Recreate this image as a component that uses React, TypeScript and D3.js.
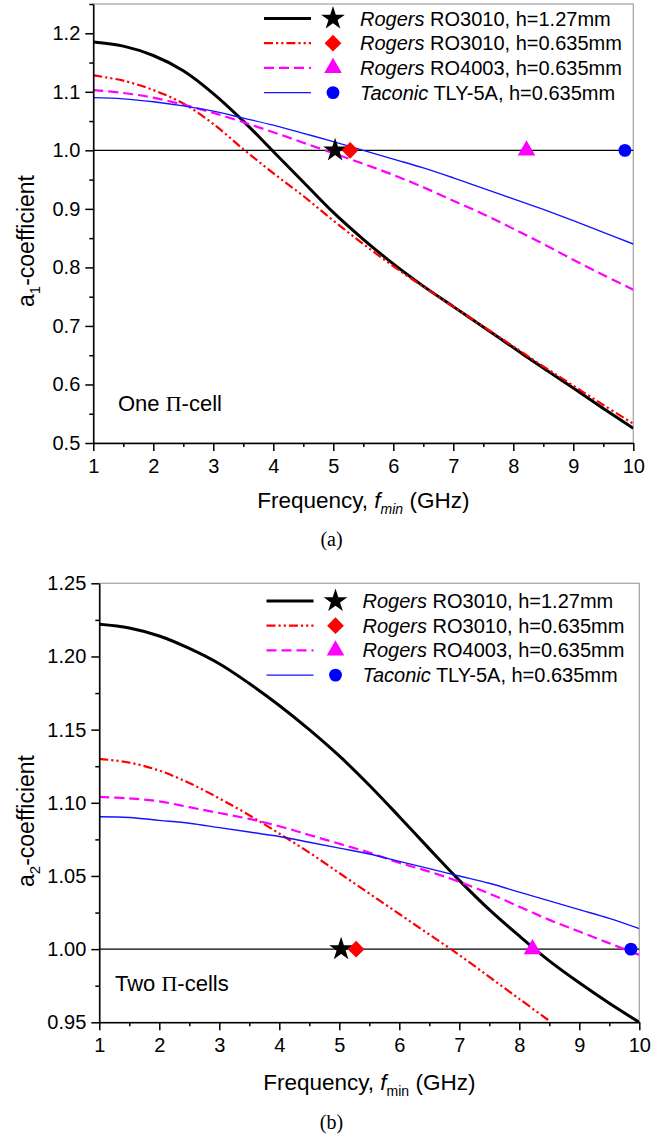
import React, { useEffect, useRef } from "react";
import * as d3 from "d3";

// ---------- data ----------
const freq = [1, 1.5, 2, 2.5, 3, 3.5, 4, 4.5, 5, 5.5, 6, 6.5, 7, 7.5, 8, 8.5, 9, 9.5, 10];
const freqRedB = [1, 1.5, 2, 2.5, 3, 3.5, 4, 4.5, 5, 5.5, 6, 6.5, 7, 7.5, 8, 8.5];

// (a) one Pi-cell, a1 coefficient
const a1_RO3010_127 = [1.185, 1.178, 1.162, 1.136, 1.097, 1.050, 0.998, 0.946, 0.894, 0.848, 0.806, 0.768, 0.733, 0.698, 0.663, 0.628, 0.594, 0.559, 0.525];
const a1_RO3010_0635 = [1.128, 1.119, 1.103, 1.080, 1.045, 1.002, 0.961, 0.922, 0.880, 0.840, 0.802, 0.767, 0.733, 0.699, 0.665, 0.631, 0.598, 0.565, 0.533];
const a1_RO4003 = [1.103, 1.098, 1.090, 1.078, 1.064, 1.048, 1.031, 1.013, 0.995, 0.977, 0.958, 0.937, 0.914, 0.891, 0.866, 0.840, 0.813, 0.787, 0.762];
const a1_TLY5A = [1.090, 1.088, 1.083, 1.076, 1.067, 1.055, 1.043, 1.029, 1.015, 1.000, 0.985, 0.970, 0.953, 0.935, 0.917, 0.899, 0.880, 0.860, 0.840];

// (b) two Pi-cells, a2 coefficient
const a2_RO3010_127 = [1.222, 1.2195, 1.214, 1.2055, 1.195, 1.1815, 1.1665, 1.150, 1.132, 1.112, 1.0905, 1.0685, 1.047, 1.027, 1.009, 0.992, 0.977, 0.963, 0.950];
const a2_RO3010_0635 = [1.130, 1.1275, 1.122, 1.1135, 1.103, 1.0915, 1.079, 1.066, 1.052, 1.038, 1.024, 1.010, 0.996, 0.981, 0.966, 0.951];
const a2_RO4003 = [1.104, 1.103, 1.101, 1.097, 1.093, 1.089, 1.084, 1.078, 1.072, 1.066, 1.059, 1.053, 1.046, 1.038, 1.029, 1.020, 1.012, 1.004, 0.996];
const a2_TLY5A = [1.0905, 1.090, 1.088, 1.086, 1.083, 1.080, 1.077, 1.073, 1.069, 1.065, 1.060, 1.055, 1.050, 1.045, 1.039, 1.033, 1.027, 1.021, 1.014];

// marker positions on the unity line
const markerFreq = [5.03, 5.28, 8.22, 9.86];
const markerValue = [1.0, 1.0, 1.0, 1.0];

const brandNames = ["Rogers", "Rogers", "Rogers", "Taconic"];
const materialLabels = [" RO3010, h=1.27mm", " RO3010, h=0.635mm", " RO4003, h=0.635mm", " TLY-5A, h=0.635mm"];

const xTicks = [1, 2, 3, 4, 5, 6, 7, 8, 9, 10];
const xMinorTicks = [1.5, 2.5, 3.5, 4.5, 5.5, 6.5, 7.5, 8.5, 9.5];
const a1Ticks = [0.5, 0.6, 0.7, 0.8, 0.9, 1.0, 1.1, 1.2];
const a1MinorTicks = [0.55, 0.65, 0.75, 0.85, 0.95, 1.05, 1.15, 1.25];
const a2Ticks = [0.95, 1.0, 1.05, 1.1, 1.15, 1.2, 1.25];
const a2MinorTicks = [0.975, 1.025, 1.075, 1.125, 1.175, 1.225];

// ---------- styles ----------
const SANS = "'Liberation Sans', Arial, Helvetica, sans-serif";
const SERIF = "'Liberation Serif', 'Times New Roman', serif";
const seriesStyle = [
  { color: "#000000", width: 3, dash: null as string | null, symbol: d3.symbolStar, size: 175, rotate: 0 },
  { color: "#ff0000", width: 2.2, dash: "9,3,2.2,3,2.2,3", symbol: d3.symbolSquare, size: 140, rotate: 45 },
  { color: "#ff00ff", width: 2.2, dash: "10,5", symbol: d3.symbolTriangle, size: 135, rotate: 0 },
  { color: "#1414ff", width: 1.4, dash: null as string | null, symbol: d3.symbolCircle, size: 130, rotate: 0 },
];
const markerColors = ["#000000", "#ff0000", "#ff00ff", "#0000ff"];

type PanelCfg = {
  left: number; right: number; top: number; bottom: number;
  yDomain: [number, number];
  yTicks: number[]; yMinor: number[]; yFormat: string;
  series: { xs: number[]; ys: number[] }[];
  sub: string; yTitleCenter: number;
  legendX: number; legendY: number;
  noteX: number; noteY: number; noteA: string; noteB: string;
  xTitleY: number; caption: string; captionY: number; minSub: boolean;
  id: string;
};

function drawPanel(svg: d3.Selection<SVGSVGElement, unknown, null, undefined>, p: PanelCfg) {
  const x = d3.scaleLinear().domain([1, 10]).range([p.left, p.right]);
  const y = d3.scaleLinear().domain(p.yDomain).range([p.bottom, p.top]);
  const g = svg.append("g");

  g.append("defs").append("clipPath").attr("id", "clip" + p.id)
    .append("rect").attr("x", p.left).attr("y", p.top)
    .attr("width", p.right - p.left).attr("height", p.bottom - p.top);

  // frame
  g.append("rect").attr("x", p.left).attr("y", p.top)
    .attr("width", p.right - p.left).attr("height", p.bottom - p.top)
    .attr("fill", "none").attr("stroke", "#a8a8a8").attr("stroke-width", 1.3);

  // unity line
  g.append("line").attr("x1", x(1)).attr("x2", x(10)).attr("y1", y(1)).attr("y2", y(1))
    .attr("stroke", "#000").attr("stroke-width", 1.3);

  const line = d3.line<[number, number]>().x(d => x(d[0])).y(d => y(d[1])).curve(d3.curveCatmullRom.alpha(0.5));
  const curves = g.append("g").attr("clip-path", `url(#clip${p.id})`);
  p.series.forEach((s, i) => {
    const st = seriesStyle[i];
    const pts = s.xs.map((xv, k) => [xv, s.ys[k]] as [number, number]);
    curves.append("path").attr("d", line(pts) || "")
      .attr("fill", "none").attr("stroke", st.color).attr("stroke-width", st.width)
      .attr("stroke-dasharray", st.dash ?? null);
  });

  // markers
  markerFreq.forEach((f, i) => {
    const st = seriesStyle[i];
    g.append("path").attr("d", d3.symbol().type(st.symbol).size(st.size)() || "")
      .attr("transform", `translate(${x(f)},${y(markerValue[i])}) rotate(${st.rotate})`)
      .attr("fill", markerColors[i]);
  });

  // axes
  const styleAxis = (a: d3.Selection<SVGGElement, unknown, null, undefined>) => {
    a.attr("font-family", SANS).attr("font-size", 20);
    a.selectAll("path.domain").attr("stroke", "#000").attr("stroke-width", 1.5);
    a.selectAll(".tick line").attr("stroke", "#000").attr("stroke-width", 1.5);
    a.selectAll(".tick text").attr("fill", "#000");
  };
  const xa = g.append("g").attr("transform", `translate(0,${p.bottom})`)
    .call(d3.axisBottom(x).tickValues(xTicks).tickSize(8).tickSizeOuter(0).tickPadding(8).tickFormat(d3.format("d")) as any);
  styleAxis(xa);
  const xm = g.append("g").attr("transform", `translate(0,${p.bottom})`)
    .call(d3.axisBottom(x).tickValues(xMinorTicks).tickSize(4).tickSizeOuter(0).tickFormat(() => "") as any);
  styleAxis(xm);
  xm.select("path.domain").remove();

  const ya = g.append("g").attr("transform", `translate(${p.left},0)`)
    .call(d3.axisLeft(y).tickValues(p.yTicks).tickSize(8).tickSizeOuter(0).tickPadding(5).tickFormat(d3.format(p.yFormat)) as any);
  styleAxis(ya);
  const ym = g.append("g").attr("transform", `translate(${p.left},0)`)
    .call(d3.axisLeft(y).tickValues(p.yMinor).tickSize(4).tickSizeOuter(0).tickFormat(() => "") as any);
  styleAxis(ym);
  ym.select("path.domain").remove();

  // x title
  const xt = g.append("text").attr("x", (p.left + p.right) / 2).attr("y", p.xTitleY)
    .attr("text-anchor", "middle").attr("font-family", SANS).attr("font-size", 22.5).attr("fill", "#000");
  xt.append("tspan").text("Frequency, ");
  xt.append("tspan").attr("font-style", "italic").text("f");
  xt.append("tspan").attr("font-size", 14).attr("dy", 6).attr("font-style", p.minSub ? "italic" : "normal").text("min");
  xt.append("tspan").attr("dy", -6).text(" (GHz)");

  // y title
  const yt = g.append("text")
    .attr("transform", `translate(34,${p.yTitleCenter}) rotate(-90)`)
    .attr("text-anchor", "middle").attr("font-family", SANS).attr("font-size", 23).attr("fill", "#000");
  yt.append("tspan").text("a");
  yt.append("tspan").attr("font-size", 15).attr("dy", 6).text(p.sub);
  yt.append("tspan").attr("dy", -6).text("-coefficient");

  // legend
  brandNames.forEach((b, i) => {
    const st = seriesStyle[i];
    const ry = p.legendY + i * 24.7;
    g.append("line").attr("x1", p.legendX).attr("x2", p.legendX + 47).attr("y1", ry).attr("y2", ry)
      .attr("stroke", st.color).attr("stroke-width", st.width).attr("stroke-dasharray", st.dash ?? null);
    g.append("path").attr("d", d3.symbol().type(st.symbol).size(st.size)() || "")
      .attr("transform", `translate(${p.legendX + 69},${ry}) rotate(${st.rotate})`)
      .attr("fill", markerColors[i]);
    const t = g.append("text").attr("x", p.legendX + 96).attr("y", ry + 7)
      .attr("font-family", SANS).attr("font-size", 20).attr("fill", "#000");
    t.append("tspan").attr("font-style", "italic").text(b);
    t.append("tspan").text(materialLabels[i]);
  });

  // note
  const nt = g.append("text").attr("x", p.noteX).attr("y", p.noteY)
    .attr("font-family", SANS).attr("font-size", 22).attr("fill", "#000");
  nt.append("tspan").text(p.noteA);
  nt.append("tspan").attr("font-family", SERIF).text("\u03A0");
  nt.append("tspan").text(p.noteB);

  // caption
  svg.append("text").attr("x", 331.5).attr("y", p.captionY).attr("text-anchor", "middle")
    .attr("font-family", SERIF).attr("font-size", 20).attr("fill", "#000").text(p.caption);
}

export default function App() {
  const ref = useRef<SVGSVGElement>(null);
  useEffect(() => {
    if (!ref.current) return;
    const svg = d3.select(ref.current);
    svg.selectAll("*").remove();
    drawPanel(svg, {
      id: "a", left: 93.3, right: 633.3, top: 4, bottom: 443,
      yDomain: [0.5, 1.25], yTicks: a1Ticks, yMinor: a1MinorTicks, yFormat: ".1f",
      series: [
        { xs: freq, ys: a1_RO3010_127 },
        { xs: freq, ys: a1_RO3010_0635 },
        { xs: freq, ys: a1_RO4003 },
        { xs: freq, ys: a1_TLY5A },
      ],
      sub: "1", yTitleCenter: 241,
      legendX: 264, legendY: 18.5,
      noteX: 118, noteY: 411, noteA: "One ", noteB: "-cell",
      xTitleY: 508, caption: "(a)", captionY: 546, minSub: true,
    });
    drawPanel(svg, {
      id: "b", left: 99.3, right: 639.3, top: 583.3, bottom: 1022.3,
      yDomain: [0.95, 1.25], yTicks: a2Ticks, yMinor: a2MinorTicks, yFormat: ".2f",
      series: [
        { xs: freq, ys: a2_RO3010_127 },
        { xs: freqRedB, ys: a2_RO3010_0635 },
        { xs: freq, ys: a2_RO4003 },
        { xs: freq, ys: a2_TLY5A },
      ],
      sub: "2", yTitleCenter: 821,
      legendX: 266.5, legendY: 601,
      noteX: 115, noteY: 991, noteA: "Two ", noteB: "-cells",
      xTitleY: 1090, caption: "(b)", captionY: 1129, minSub: false,
    });
  }, []);
  return (
    <svg ref={ref} width={663} height={1137}
      style={{ position: "absolute", left: 0, top: 0, background: "#fff", display: "block" }} />
  );
}
